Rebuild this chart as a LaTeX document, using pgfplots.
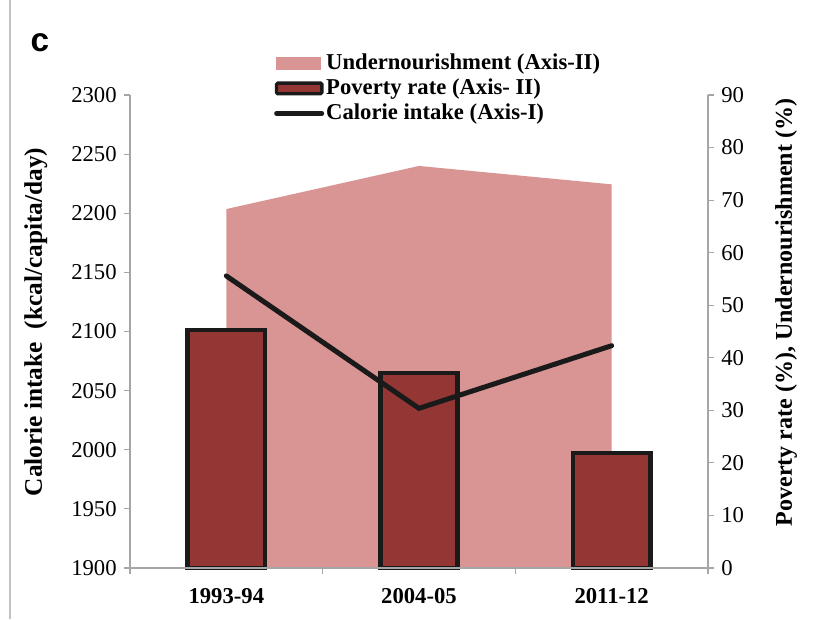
\documentclass[border=0pt]{standalone}
\usepackage{pgfplots}
\pgfplotsset{compat=1.18}
\usepackage{fontspec}
\setmainfont{Liberation Serif}
\newfontfamily\arialfont{Liberation Sans}
\definecolor{undern}{HTML}{D89594}
\definecolor{pov}{HTML}{943634}
\definecolor{edge}{HTML}{1A1A1A}
\definecolor{axgray}{HTML}{A6A6A6}
\pgfplotsset{
  base/.style={
    at={(0,0)}, anchor=south west, scale only axis,
    width=433.5pt, height=354.75pt,
    xmin=-0.5, xmax=2.5, clip=false,
    axis line style={axgray, line width=0.8pt},
    tick style={axgray, line width=0.8pt},
    major tick length=4.5pt, tick align=outside,
    ticklabel style={font=\fontsize{17}{19}\selectfont},
    /pgf/number format/assume math mode=true,
    /pgf/number format/set thousands separator={},
  }
}
\begin{document}
\begin{tikzpicture}
\path[use as bounding box] (-97.5pt,-38.25pt) rectangle (522pt,426pt);
\draw[axgray!70, line width=0.8pt] (-90pt,-38.25pt) -- (-90pt,426pt);
\node[font=\arialfont\bfseries\fontsize{25}{27}\selectfont] at (-67.5pt,394pt) {c};

\begin{axis}[base,
  axis y line*=right, axis x line=none,
  ymin=0, ymax=90, ytick={0,10,...,90},
  yticklabel style={xshift=2pt},
  ylabel={Poverty rate (\%), Undernourishment (\%)},
  ylabel style={font=\bfseries\fontsize{18}{20}\selectfont, at={(axis description cs:1.135,0.54)}, anchor=center},
]
\addplot[fill=undern, draw=none] coordinates {(0,68.3) (1,76.5) (2,73.0)} \closedcycle;
\addplot[ybar, bar width=0.4, fill=pov, draw=edge, line width=3.5pt]
  coordinates {(0,45.3) (1,37.1) (2,21.9)};
\end{axis}

\begin{axis}[base,
  axis y line*=left, axis x line*=bottom,
  ymin=1900, ymax=2300, ytick={1900,1950,...,2300},
  yticklabel style={xshift=-2pt},
  xtick={-0.5,0.5,1.5,2.5}, xticklabels={},
  extra x ticks={0,1,2},
  extra x tick labels={1993-94,2004-05,2011-12},
  extra x tick style={major tick length=0pt,
    tick label style={font=\bfseries\fontsize{17}{19}\selectfont, yshift=-12pt}},
  ylabel={Calorie intake\ \ (kcal/capita/day)},
  ylabel style={font=\bfseries\fontsize{19}{21}\selectfont, at={(axis description cs:-0.163,0.52)}, anchor=center},
  legend style={draw=none, fill=none, at={(0.249,1.092)}, anchor=north west,
    font=\bfseries\fontsize{17}{19}\selectfont, row sep=1.25pt,
    inner sep=0pt, nodes={inner sep=1.5pt, text height=11.5pt, text depth=3pt}},
  legend cell align=left,
]
\addlegendimage{legend image code/.code={\fill[undern] (0pt,-4.5pt) rectangle (33pt,4.5pt);}}
\addlegendentry{Undernourishment (Axis-II)}
\addlegendimage{legend image code/.code={\draw[fill=pov, draw=edge, line width=2.5pt, rounded corners=1pt] (0pt,-4pt) rectangle (34pt,4pt);}}
\addlegendentry{Poverty rate (Axis- II)}
\addplot[edge, line width=3.75pt, line cap=round,
  legend image code/.code={\draw[edge, line width=3.5pt, line cap=round] (0pt,0pt) -- (34pt,0pt);}]
  coordinates {(0,2147) (1,2035) (2,2088)};
\addlegendentry{Calorie intake (Axis-I)}
\end{axis}
\end{tikzpicture}
\end{document}
